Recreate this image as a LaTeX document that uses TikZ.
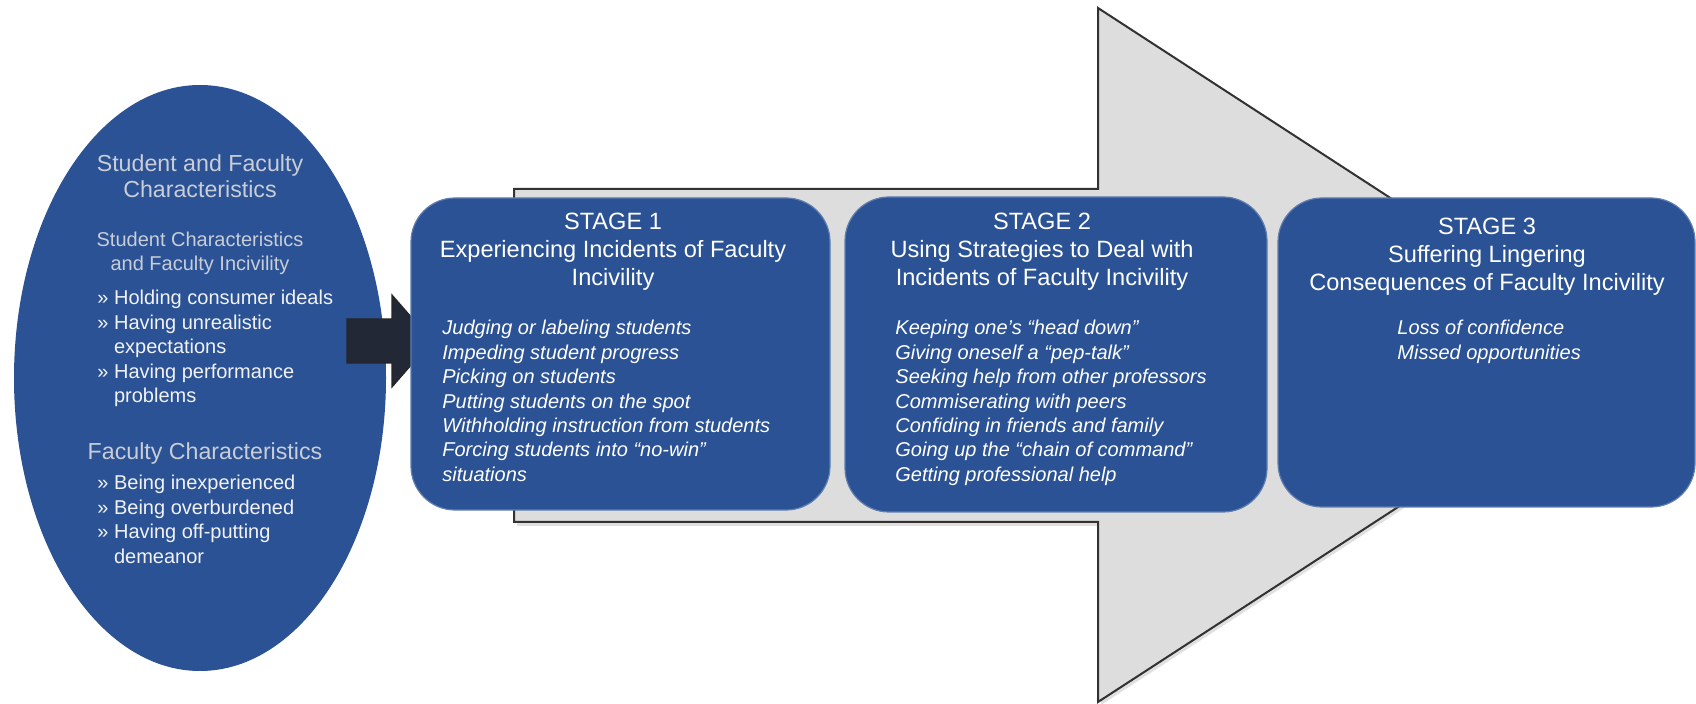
\documentclass[tikz,border=0pt]{standalone}
\usepackage{fontspec}
\setmainfont{Liberation Sans}
\usetikzlibrary{shapes.geometric}
\definecolor{boxblue}{RGB}{42,82,148}
\definecolor{arrowgrey}{RGB}{221,221,221}
\definecolor{edgegrey}{RGB}{50,50,50}
\definecolor{headgrey}{RGB}{200,205,216}
\definecolor{bulletwhite}{RGB}{242,242,245}
\definecolor{darkarrow}{RGB}{34,40,54}
\tikzset{
  stagebox/.style={fill=boxblue, draw=boxblue!75!white, line width=0.6pt, rounded corners=22pt, inner sep=0pt},
  headtext/.style={text=white, align=center, inner sep=0pt, font=\fontsize{11.8}{14}\selectfont},
  listtext/.style={text=white, align=left, inner sep=0pt, font=\fontsize{10}{12.2}\selectfont\itshape},
  ehead/.style={text=headgrey, align=center, inner sep=0pt, font=\fontsize{11.6}{13}\selectfont},
  esub/.style={text=headgrey, align=center, inner sep=0pt, font=\fontsize{10}{12}\selectfont},
  ebul/.style={text=bulletwhite, align=left, inner sep=0pt, font=\fontsize{10}{12.2}\selectfont},
  bigarrow/.style={fill=arrowgrey, draw=edgegrey, line width=1pt, line join=miter},
  arrowshadow/.style={fill=black!12, draw=none},
  smallarrow/.style={fill=darkarrow, draw=black!85, line width=0.6pt},
}
\begin{document}
\begin{tikzpicture}[x=0.5pt,y=-0.5pt]
\fill[white] (0,0) rectangle (1696,704);
\useasboundingbox (0,0) rectangle (1696,704);

% large background arrow with a faint shadow
\fill[arrowshadow] (517,192) -- (1101,192) -- (1101,11) -- (1635,358) -- (1101,705) -- (1101,526) -- (517,526) -- cycle;
\draw[bigarrow] (514,189) -- (1098,189) -- (1098,8) -- (1632,355) -- (1098,702) -- (1098,522) -- (514,522) -- cycle;

% left ellipse
\node[ellipse, fill=boxblue, draw=none, minimum width=186pt, minimum height=293pt, inner sep=0pt] (ell) at (200,378) {};

% small dark arrow
\draw[smallarrow] (347,319) -- (392,319) -- (392,295) -- (432,341) -- (392,387) -- (392,363) -- (347,363) -- cycle;

% stage boxes
\node[stagebox, minimum width=209.5pt, minimum height=156pt] (s1) at (620.5,354) {};
\node[stagebox, minimum width=211pt, minimum height=157.5pt] (s2) at (1056,354.5) {};
\node[stagebox, minimum width=208.5pt, minimum height=154.5pt] (s3) at (1486.5,352.5) {};

% stage texts
\node[headtext, anchor=north] (h1) at (613,213) {STAGE 1\\Experiencing Incidents of Faculty\\Incivility};
\node[listtext, anchor=north west] (l1) at (442,320) {Judging or labeling students\\Impeding student progress\\Picking on students\\Putting students on the spot\\Withholding instruction from students\\Forcing students into “no-win”\\situations};

\node[headtext, anchor=north] (h2) at (1042,213) {STAGE 2\\Using Strategies to Deal with\\Incidents of Faculty Incivility};
\node[listtext, anchor=north west] (l2) at (895,320) {Keeping one’s “head down”\\Giving oneself a “pep-talk”\\Seeking help from other professors\\Commiserating with peers\\Confiding in friends and family\\Going up the “chain of command”\\Getting professional help};

\node[headtext, anchor=north] (h3) at (1487,218) {STAGE 3\\Suffering Lingering\\Consequences of Faculty Incivility};
\node[listtext, anchor=north west] (l3) at (1397,320) {Loss of confidence\\Missed opportunities};

% ellipse texts
\node[ehead, anchor=north] (e1) at (200,154) {Student and Faculty\\Characteristics};
\node[esub, anchor=north] (e2) at (200,232) {Student Characteristics\\and Faculty Incivility};
\node[ebul, anchor=north west] (e3) at (97,290) {» Holding consumer ideals\\» Having unrealistic\\\hphantom{» }expectations\\» Having performance\\\hphantom{» }problems};
\node[ehead, anchor=north] (e4) at (205,442) {Faculty Characteristics};
\node[ebul, anchor=north west] (e5) at (97,475) {» Being inexperienced\\» Being overburdened\\» Having off-putting\\\hphantom{» }demeanor};
\end{tikzpicture}
\end{document}
